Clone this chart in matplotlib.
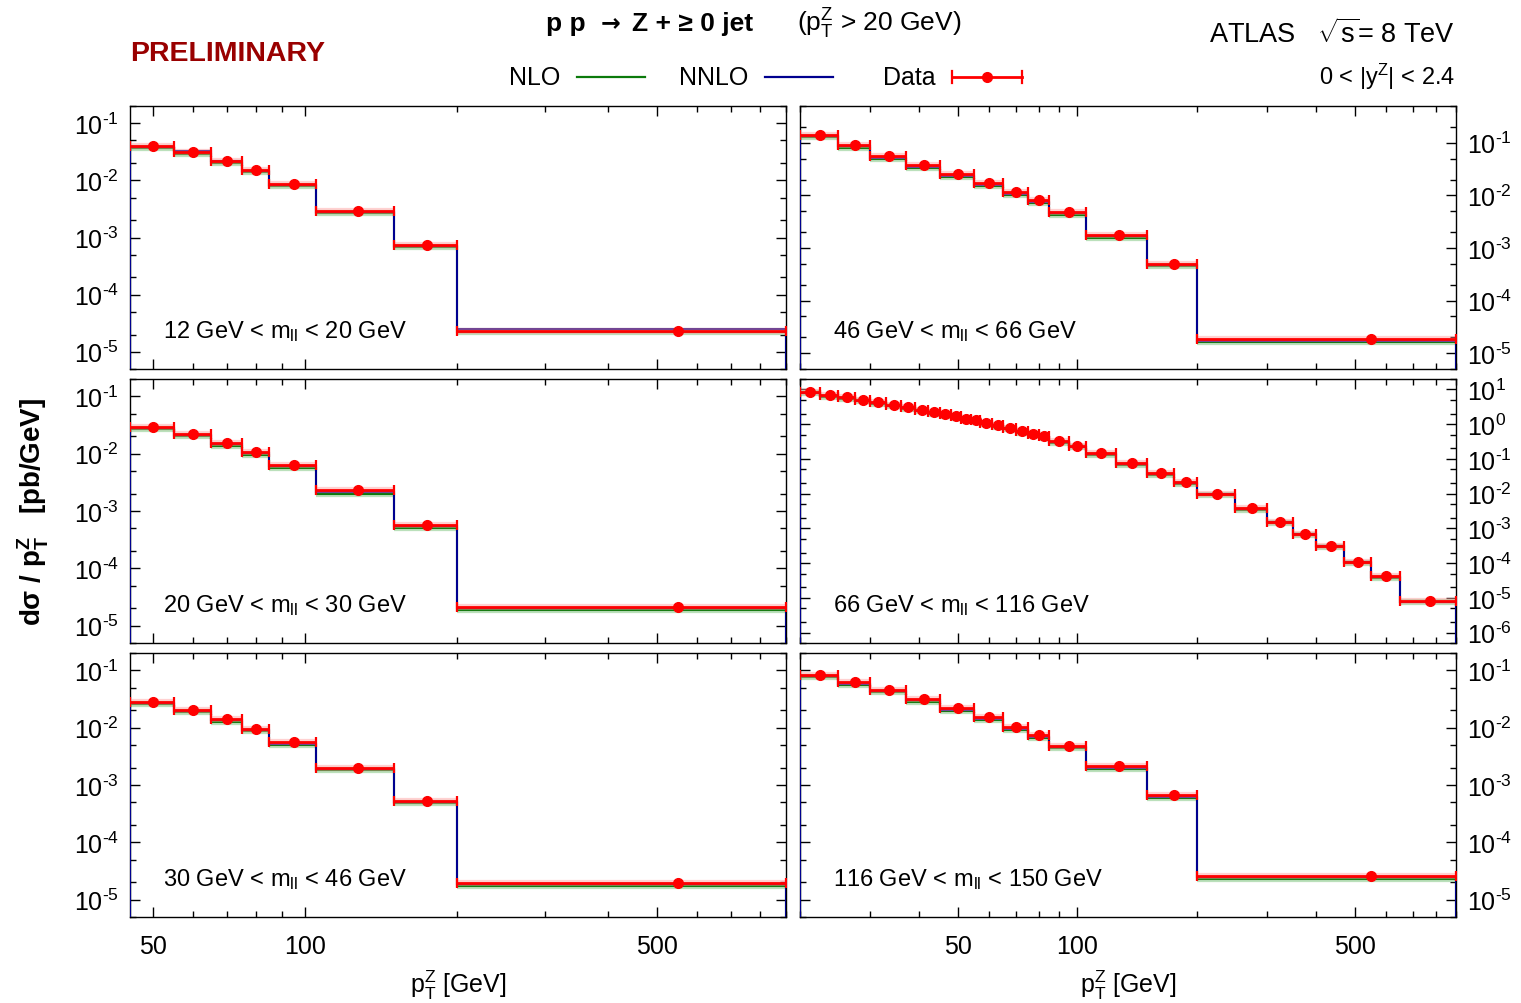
import numpy as np
import matplotlib
matplotlib.use('Agg')
import matplotlib.pyplot as plt
from matplotlib.lines import Line2D
from matplotlib.ticker import LogLocator, FixedLocator, NullFormatter, FixedFormatter, FuncFormatter

plt.rcParams['font.family'] = ['Liberation Sans', 'DejaVu Sans']
plt.rcParams['mathtext.fontset'] = 'custom'
plt.rcParams['mathtext.rm'] = 'Liberation Sans'
plt.rcParams['mathtext.it'] = 'Liberation Sans:italic'
plt.rcParams['mathtext.bf'] = 'Liberation Sans:bold'
plt.rcParams['mathtext.default'] = 'regular'
plt.rcParams['axes.unicode_minus'] = False

# ---------------- data ----------------
edges_off = [45, 55, 65, 75, 85, 105, 150, 200, 900]
edges_mid = [20, 25, 30, 37, 45, 55, 65, 75, 85, 105, 150, 200, 900]
edges_peak = [20, 22.5, 25, 27.5, 30, 33, 36, 39, 42, 45, 48, 51, 54, 57, 61, 65, 70,
              75, 80, 85, 95, 105, 125, 150, 175, 200, 250, 300, 350, 400, 470, 550, 650, 900]

labels = ["12 GeV < m$_{ll}$ < 20 GeV", "46 GeV < m$_{ll}$ < 66 GeV",
          "20 GeV < m$_{ll}$ < 30 GeV", "66 GeV < m$_{ll}$ < 116 GeV",
          "30 GeV < m$_{ll}$ < 46 GeV", "116 GeV < m$_{ll}$ < 150 GeV"]

# 12-20 GeV
data_12_20 = [0.0402, 0.0312, 0.0220, 0.0151, 0.00875, 0.00296, 0.000735, 2.35e-5]
nnlo_12_20 = [0.0388, 0.0328, 0.0216, 0.0146, 0.00840, 0.00284, 0.000705, 2.54e-5]
nlo_12_20 = [0.0368, 0.0295, 0.0203, 0.0139, 0.00795, 0.00270, 0.000670, 2.18e-5]
# 20-30 GeV
data_20_30 = [0.0288, 0.0217, 0.0151, 0.01055, 0.00643, 0.00229, 0.000578, 2.12e-5]
nnlo_20_30 = [0.0282, 0.0212, 0.0146, 0.0101, 0.00600, 0.00215, 0.000545, 2.00e-5]
nlo_20_30 = [0.0265, 0.0200, 0.0138, 0.0095, 0.00560, 0.00200, 0.000510, 1.85e-5]
# 30-46 GeV
data_30_46 = [0.0281, 0.0206, 0.01397, 0.00948, 0.00555, 0.00200, 0.000533, 1.95e-5]
nnlo_30_46 = [0.0270, 0.0198, 0.0134, 0.0091, 0.00520, 0.00190, 0.000505, 1.85e-5]
nlo_30_46 = [0.0255, 0.0187, 0.0126, 0.0086, 0.00490, 0.00180, 0.000480, 1.75e-5]
# 46-66 GeV
data_46_66 = [0.142, 0.0903, 0.0558, 0.0377, 0.0254, 0.0171, 0.0114, 0.00815, 0.00490,
              0.00179, 0.000505, 1.87e-5]
nnlo_46_66 = [0.133, 0.0850, 0.0520, 0.0352, 0.0238, 0.0159, 0.0106, 0.00750, 0.00455,
              0.00168, 0.000470, 1.70e-5]
nlo_46_66 = [0.126, 0.0800, 0.0490, 0.0332, 0.0224, 0.0150, 0.0100, 0.00710, 0.00430,
             0.00158, 0.000445, 1.60e-5]
# 66-116 GeV
data_66_116 = [8.57, 6.87, 5.89, 5.05, 4.23, 3.62, 3.03, 2.60, 2.23, 1.91, 1.67, 1.43, 1.28,
               1.10, 0.94, 0.79, 0.634, 0.531, 0.445, 0.319, 0.239, 0.144, 0.0760, 0.0392,
               0.0211, 0.00998, 0.00378, 0.00156, 0.000705, 0.000318, 0.000110, 4.18e-5, 8.2e-6]
nnlo_66_116 = [8.15, 6.55, 5.60, 4.80, 4.02, 3.44, 2.88, 2.47, 2.12, 1.82, 1.59, 1.36, 1.22,
               1.05, 0.895, 0.752, 0.603, 0.505, 0.423, 0.303, 0.227, 0.137, 0.0722, 0.0372,
               0.0200, 0.00948, 0.00359, 0.00148, 0.000670, 0.000302, 0.000104, 3.97e-5, 7.8e-6]
nlo_66_116 = [7.75, 6.20, 5.32, 4.56, 3.82, 3.27, 2.74, 2.35, 2.01, 1.72, 1.51, 1.29, 1.16,
              0.99, 0.850, 0.714, 0.572, 0.480, 0.402, 0.288, 0.216, 0.130, 0.0686, 0.0354,
              0.0190, 0.00900, 0.00341, 0.00141, 0.000636, 0.000287, 9.9e-5, 3.77e-5, 7.4e-6]
# 116-150 GeV
data_116_150 = [0.0840, 0.0617, 0.0459, 0.0319, 0.0219, 0.0151, 0.0102, 0.00730, 0.00488,
                0.00215, 0.000668, 2.56e-5]
nnlo_116_150 = [0.0790, 0.0580, 0.0432, 0.0300, 0.0206, 0.0142, 0.0096, 0.00690, 0.00460,
                0.00200, 0.000620, 2.45e-5]
nlo_116_150 = [0.0750, 0.0550, 0.0410, 0.0285, 0.0195, 0.0135, 0.0091, 0.00650, 0.00435,
               0.00190, 0.000590, 2.30e-5]

xtick_vals = [50, 100, 500]
xtick_labels = ["50", "100", "500"]

# ---------------- style ----------------
GREEN = '#0b7a0b'
GREEN_BAND = '#9fd49f'
BLUE = '#00008f'
RED = '#ff0000'
PINK = '#ff9a9a'

W, H = 1521, 1004
fig = plt.figure(figsize=(W / 100, H / 100), dpi=100)


def fx(x):
    return x / W


def fy(y):
    return 1 - y / H


def px_axes(x0, y0, x1, y1):
    return fig.add_axes([x0 / W, 1 - y1 / H, (x1 - x0) / W, (y1 - y0) / H])


def pow_label(v, pos):
    n = int(round(np.log10(v)))
    return '10$^{\\text{%d}}$' % n


cols = [(130, 786), (800, 1456)]
rows = [(107, 370), (380, 644), (654, 918)]

panels = [
    (0, 0, edges_off, data_12_20, nnlo_12_20, nlo_12_20, (45, 900), (5e-6, 0.2)),
    (0, 1, edges_mid, data_46_66, nnlo_46_66, nlo_46_66, (20, 900), (5e-6, 0.5)),
    (1, 0, edges_off, data_20_30, nnlo_20_30, nlo_20_30, (45, 900), (5e-6, 0.2)),
    (1, 1, edges_peak, data_66_116, nnlo_66_116, nlo_66_116, (20, 900), (5e-7, 20)),
    (2, 0, edges_off, data_30_46, nnlo_30_46, nlo_30_46, (45, 900), (5e-6, 0.2)),
    (2, 1, edges_mid, data_116_150, nnlo_116_150, nlo_116_150, (20, 900), (5e-6, 0.2)),
]

for i, (r, c, edges, data, nnlo, nlo, xl, yl) in enumerate(panels):
    x0, x1 = cols[c]
    y0, y1 = rows[r]
    ax = px_axes(x0, y0, x1, y1)
    e = np.array(edges, dtype=float)
    d = np.array(data)
    lo, hi = e[:-1], e[1:]
    ctr = 0.5 * (lo + hi)
    base = yl[0] * 1e-3

    ax.hlines(nlo, lo, hi, color=GREEN_BAND, lw=4.5, alpha=0.7, zorder=2)
    ax.stairs(nlo, e, baseline=base, color=GREEN, lw=1.5, zorder=3)
    ax.stairs(nnlo, e, baseline=base, color=BLUE, lw=1.5, zorder=4)
    ax.hlines(d, lo, hi, color=PINK, lw=4.5, alpha=0.45, zorder=5)
    ax.errorbar(ctr, d, xerr=[ctr - lo, hi - ctr], fmt='o', color=RED, ms=7,
                elinewidth=2.0, capsize=3.8, capthick=1.6, zorder=6)

    ax.set_xscale('log')
    ax.set_yscale('log')
    ax.set_xlim(*xl)
    ax.set_ylim(*yl)

    ax.xaxis.set_major_locator(FixedLocator(xtick_vals))
    ax.xaxis.set_major_formatter(FixedFormatter(xtick_labels))
    ax.xaxis.set_minor_locator(LogLocator(base=10, subs=np.arange(2, 10), numticks=20))
    ax.xaxis.set_minor_formatter(NullFormatter())
    ax.yaxis.set_major_locator(LogLocator(base=10, numticks=20))
    ax.yaxis.set_major_formatter(FuncFormatter(pow_label))
    ax.yaxis.set_minor_locator(LogLocator(base=10, subs=(2.0, 5.0), numticks=20))
    ax.yaxis.set_minor_formatter(NullFormatter())

    ax.tick_params(which='both', direction='in', top=True, bottom=True, left=True, right=True,
                   labelsize=18, pad=8)
    ax.tick_params(which='major', length=7, width=1.0)
    ax.tick_params(which='minor', length=4, width=1.0)
    ax.tick_params(axis='x', labelbottom=(r == 2), pad=12)
    if c == 1:
        ax.tick_params(axis='y', labelleft=False, labelright=True)
    for s in ax.spines.values():
        s.set_linewidth(1.0)

    ax.text(0.05, 0.145, labels[i], transform=ax.transAxes, fontsize=17,
            ha='left', va='center')

# ---------------- header ----------------
fig.text(fx(130), fy(54), 'PRELIMINARY', color='#990000', fontweight='bold',
         fontsize=20.5, ha='left', va='center')
fig.text(fx(546), fy(24), 'p p', fontweight='bold', fontsize=19, ha='left', va='center')
fig.text(fx(611), fy(23), '\u2192', fontweight='bold', fontsize=17, ha='center', va='center',
         family=['DejaVu Sans'])
fig.text(fx(632), fy(24), 'Z + \u2265 0 jet', fontweight='bold', fontsize=19,
         ha='left', va='center')
fig.text(fx(797), fy(24), '(p$_T^Z$ > 20 GeV)', fontsize=19, ha='left', va='center')
fig.text(fx(1455), fy(34), r'ATLAS   $\sqrt{s}$= 8 TeV', fontsize=19.5, ha='right', va='center')
fig.text(fx(1455), fy(77), '0 < |y$^Z$| < 2.4', fontsize=17, ha='right', va='center')

fig.text(fx(560), fy(78), 'NLO', fontsize=18, ha='right', va='center')
fig.add_artist(Line2D([fx(577), fx(645)], [fy(78), fy(78)], color=GREEN, lw=1.6,
                      transform=fig.transFigure))
fig.text(fx(748), fy(78), 'NNLO', fontsize=18, ha='right', va='center')
fig.add_artist(Line2D([fx(765), fx(833)], [fy(78), fy(78)], color=BLUE, lw=1.6,
                      transform=fig.transFigure))
fig.text(fx(936), fy(78), 'Data', fontsize=18, ha='right', va='center')
fig.add_artist(Line2D([fx(952), fx(1022)], [fy(78), fy(78)], color=RED, lw=2.0,
                      transform=fig.transFigure))
for xc in (952, 1022):
    fig.add_artist(Line2D([fx(xc), fx(xc)], [fy(72), fy(84)], color=RED, lw=1.6,
                          transform=fig.transFigure))
fig.add_artist(Line2D([fx(987)], [fy(78)], marker='o', ms=7, color=RED,
                      transform=fig.transFigure))

# axis titles
fig.text(fx(33), fy(512), 'd\u03c3 / $\\mathbf{p_T^Z}$   [pb/GeV]', rotation=90,
         fontweight='bold', fontsize=20, ha='center', va='center')
fig.text(fx(458), fy(985), 'p$_T^Z$ [GeV]', fontsize=18, ha='center', va='center')
fig.text(fx(1128), fy(985), 'p$_T^Z$ [GeV]', fontsize=18, ha='center', va='center')

fig.savefig('out.png', dpi=100)
